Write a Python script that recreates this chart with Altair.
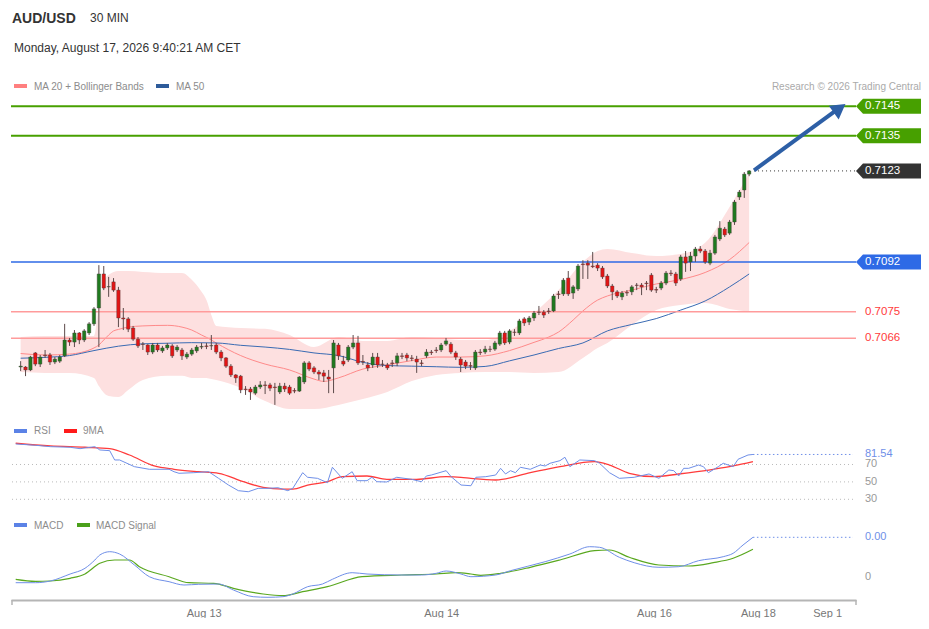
import altair as alt
import pandas as pd

FONT = "Liberation Sans"

# ---------------- price candles (30-min bars, index 0..149) ----------------
opens = [0.70562,0.70562,0.70552,0.70610,0.70572,0.70603,0.70603,0.70579,0.70582,0.70600,
         0.70654,0.70647,0.70678,0.70654,0.70678,0.70709,0.70763,0.70879,0.70835,0.70852,
         0.70824,0.70729,0.70726,0.70695,0.70657,0.70640,0.70637,0.70613,0.70637,0.70617,
         0.70627,0.70634,0.70620,0.70620,0.70596,0.70606,0.70617,0.70630,0.70634,0.70634,
         0.70637,0.70613,0.70593,0.70565,0.70535,0.70531,0.70487,0.70487,0.70473,0.70494,
         0.70501,0.70501,0.70494,0.70477,0.70497,0.70494,0.70482,0.70480,0.70511,0.70576,
         0.70559,0.70545,0.70542,0.70528,0.70559,0.70637,0.70582,0.70586,0.70630,0.70644,
         0.70581,0.70569,0.70569,0.70596,0.70572,0.70569,0.70576,0.70576,0.70600,0.70603,
         0.70593,0.70589,0.70576,0.70600,0.70613,0.70620,0.70620,0.70640,0.70640,0.70610,
         0.70589,0.70579,0.70567,0.70559,0.70613,0.70613,0.70623,0.70623,0.70640,0.70678,
         0.70647,0.70681,0.70678,0.70726,0.70715,0.70729,0.70749,0.70749,0.70753,0.70753,
         0.70811,0.70811,0.70865,0.70814,0.70828,0.70913,0.70916,0.70906,0.70909,0.70899,
         0.70872,0.70838,0.70818,0.70801,0.70816,0.70818,0.70841,0.70841,0.70848,0.70875,
         0.70826,0.70831,0.70848,0.70882,0.70879,0.70862,0.70937,0.70920,0.70940,0.70964,
         0.70957,0.70916,0.70950,0.70998,0.71032,0.71018,0.71056,0.71141,0.71165,0.71219]
highs = [0.70582,0.70565,0.70600,0.70613,0.70603,0.70620,0.70610,0.70596,0.70603,0.70709,
         0.70661,0.70688,0.70681,0.70691,0.70715,0.70766,0.70909,0.70906,0.70869,0.70865,
         0.70835,0.70763,0.70732,0.70702,0.70664,0.70647,0.70640,0.70644,0.70644,0.70634,
         0.70644,0.70640,0.70637,0.70627,0.70613,0.70627,0.70637,0.70644,0.70644,0.70671,
         0.70644,0.70620,0.70596,0.70572,0.70538,0.70535,0.70497,0.70494,0.70501,0.70514,
         0.70514,0.70508,0.70508,0.70508,0.70508,0.70501,0.70490,0.70531,0.70582,0.70582,
         0.70565,0.70552,0.70552,0.70552,0.70654,0.70644,0.70600,0.70637,0.70671,0.70668,
         0.70603,0.70579,0.70610,0.70610,0.70586,0.70576,0.70586,0.70610,0.70610,0.70610,
         0.70603,0.70600,0.70586,0.70623,0.70620,0.70630,0.70644,0.70661,0.70647,0.70617,
         0.70596,0.70586,0.70579,0.70620,0.70623,0.70634,0.70634,0.70651,0.70685,0.70685,
         0.70691,0.70691,0.70726,0.70732,0.70736,0.70753,0.70770,0.70756,0.70763,0.70811,
         0.70821,0.70865,0.70889,0.70841,0.70913,0.70926,0.70926,0.70954,0.70916,0.70906,
         0.70879,0.70845,0.70824,0.70821,0.70824,0.70841,0.70848,0.70848,0.70855,0.70882,
         0.70835,0.70855,0.70889,0.70892,0.70886,0.70944,0.70957,0.70954,0.70971,0.70974,
         0.70964,0.70961,0.71012,0.71059,0.71039,0.71063,0.71131,0.71165,0.71226,0.71233]
lows = [0.70548,0.70531,0.70548,0.70565,0.70562,0.70593,0.70569,0.70572,0.70576,0.70596,
        0.70634,0.70630,0.70640,0.70647,0.70671,0.70702,0.70630,0.70824,0.70801,0.70818,
        0.70698,0.70688,0.70681,0.70651,0.70627,0.70620,0.70603,0.70606,0.70613,0.70610,
        0.70620,0.70593,0.70613,0.70586,0.70589,0.70600,0.70610,0.70623,0.70623,0.70620,
        0.70606,0.70582,0.70559,0.70528,0.70508,0.70473,0.70467,0.70450,0.70467,0.70487,
        0.70470,0.70480,0.70433,0.70470,0.70477,0.70467,0.70473,0.70477,0.70504,0.70548,
        0.70538,0.70518,0.70511,0.70473,0.70473,0.70586,0.70565,0.70579,0.70623,0.70569,
        0.70569,0.70548,0.70559,0.70559,0.70562,0.70552,0.70562,0.70565,0.70589,0.70582,
        0.70582,0.70542,0.70565,0.70593,0.70603,0.70610,0.70613,0.70634,0.70606,0.70586,
        0.70545,0.70555,0.70552,0.70552,0.70603,0.70606,0.70613,0.70617,0.70634,0.70637,
        0.70640,0.70668,0.70671,0.70702,0.70705,0.70719,0.70739,0.70729,0.70743,0.70749,
        0.70794,0.70804,0.70804,0.70794,0.70821,0.70862,0.70862,0.70899,0.70889,0.70862,
        0.70831,0.70790,0.70797,0.70790,0.70804,0.70807,0.70824,0.70807,0.70824,0.70818,
        0.70814,0.70824,0.70841,0.70872,0.70838,0.70855,0.70886,0.70889,0.70920,0.70950,
        0.70913,0.70909,0.70944,0.70991,0.71005,0.71012,0.71046,0.71131,0.71138,0.71212]
closes = [0.70565,0.70552,0.70596,0.70572,0.70596,0.70601,0.70579,0.70589,0.70596,0.70654,
          0.70647,0.70678,0.70654,0.70685,0.70709,0.70760,0.70879,0.70831,0.70836,0.70824,
          0.70729,0.70726,0.70691,0.70657,0.70634,0.70639,0.70613,0.70637,0.70620,0.70627,
          0.70637,0.70600,0.70630,0.70600,0.70606,0.70620,0.70630,0.70632,0.70632,0.70635,
          0.70613,0.70593,0.70565,0.70535,0.70525,0.70484,0.70485,0.70477,0.70494,0.70501,
          0.70499,0.70490,0.70492,0.70497,0.70487,0.70473,0.70480,0.70528,0.70576,0.70555,
          0.70545,0.70538,0.70531,0.70521,0.70644,0.70600,0.70572,0.70630,0.70644,0.70576,
          0.70579,0.70559,0.70596,0.70569,0.70571,0.70559,0.70574,0.70600,0.70598,0.70593,
          0.70591,0.70579,0.70574,0.70613,0.70611,0.70618,0.70637,0.70651,0.70613,0.70596,
          0.70569,0.70565,0.70565,0.70613,0.70611,0.70623,0.70622,0.70644,0.70678,0.70644,
          0.70685,0.70680,0.70719,0.70712,0.70729,0.70746,0.70748,0.70739,0.70751,0.70804,
          0.70809,0.70858,0.70811,0.70835,0.70906,0.70911,0.70909,0.70904,0.70899,0.70869,
          0.70838,0.70818,0.70804,0.70814,0.70814,0.70835,0.70840,0.70835,0.70846,0.70824,
          0.70824,0.70848,0.70882,0.70880,0.70848,0.70937,0.70916,0.70940,0.70964,0.70957,
          0.70920,0.70950,0.71005,0.71035,0.71012,0.71056,0.71124,0.71158,0.71219,0.71230]

# ---------------- moving averages / Bollinger bands (read at sample bars) ----------------
band_idx = [0,5,10,15,16,17,18,20,22,25,30,33,35,37,38,39,40,45,50,55,60,65,70,75,80,85,90,95,
            100,105,110,115,118,120,125,130,135,140,145,149]
bb_upper = [0.70664,0.70668,0.70668,0.70668,0.70773,0.70852,0.70876,0.70889,0.70889,0.70886,
            0.70882,0.70882,0.70859,0.70818,0.70790,0.70739,0.70702,0.70695,0.70692,0.70671,
            0.70630,0.70664,0.70651,0.70651,0.70664,0.70661,0.70654,0.70654,0.70685,0.70746,
            0.70824,0.70920,0.70957,0.70964,0.70950,0.70940,0.70947,0.70985,0.71107,0.71223]
bb_lower = [0.70545,0.70542,0.70542,0.70525,0.70497,0.70474,0.70463,0.70460,0.70484,0.70518,
            0.70532,0.70532,0.70525,0.70525,0.70525,0.70521,0.70518,0.70491,0.70446,0.70419,
            0.70419,0.70433,0.70453,0.70477,0.70514,0.70535,0.70542,0.70545,0.70545,0.70542,
            0.70545,0.70593,0.70627,0.70644,0.70705,0.70756,0.70773,0.70780,0.70760,0.70750]
ma20_idx = [0,5,10,15,16,17,18,19,20,22,25,30,33,35,37,38,39,40,45,50,55,60,62,65,70,75,80,85,
            90,95,100,105,108,110,113,115,118,120,125,130,135,140,145,149]
ma20 = [0.70608,0.70603,0.70606,0.70627,0.70637,0.70654,0.70671,0.70685,0.70690,0.70698,
        0.70702,0.70704,0.70698,0.70688,0.70671,0.70663,0.70654,0.70644,0.70601,0.70572,
        0.70552,0.70521,0.70513,0.70525,0.70555,0.70569,0.70584,0.70596,0.70596,0.70600,
        0.70618,0.70646,0.70664,0.70681,0.70722,0.70753,0.70790,0.70804,0.70824,0.70845,
        0.70860,0.70884,0.70928,0.70986]
ma50_idx = [0,5,10,15,20,25,30,35,40,45,50,55,60,65,70,75,80,85,90,95,100,105,110,115,120,
            125,130,135,140,145,149]
ma50 = [0.70592,0.70595,0.70601,0.70618,0.70633,0.70641,0.70643,0.70645,0.70644,0.70636,
        0.70630,0.70622,0.70610,0.70601,0.70578,0.70567,0.70565,0.70563,0.70561,0.70564,
        0.70583,0.70603,0.70625,0.70644,0.70685,0.70707,0.70727,0.70756,0.70787,0.70835,
        0.70879]

# ---------------- key levels ----------------
resistance_levels = [0.7145, 0.7135]
pivot_level = [0.7092]
support_levels = [0.7075, 0.7066]
target_arrow_idx = [150, 166.5]
target_arrow_px = [0.71232, 0.71433]
arrow_head_idx = [167.5]
arrow_head_px = [0.71443]

# ---------------- RSI (14) and its 9-period MA ----------------
rsi_idx = [0,4,7,11,13,16,17,19,20,21,24,27,31,32,33,36,39,41,43,45,47,49,51,53,55,56,58,59,61,
           63,64,66,68,69,71,72,73,75,77,80,82,83,84,87,88,90,92,93,95,97,98,99,100,101,102,
           104,106,107,108,110,111,112,114,117,118,120,122,125,128,130,132,133,134,135,136,
           138,139,140,142,143,145,146,148,149]
rsi_vals = [93.6,92.1,90.5,89.8,88.2,90.5,86.7,85.9,75.2,75.2,67.5,64.5,64.5,61.7,59.9,60.6,
            61.7,54.1,46.4,39.9,38.7,42.6,42.6,43.3,39.9,42.6,60.6,55.3,54.1,49.1,66.8,54.1,
            61.7,51.4,51.4,55.3,50.2,49.9,55.3,53.0,50.2,56.8,57.9,62.9,56.0,46.4,45.6,55.3,
            56.0,57.9,65.6,59.1,62.9,60.6,66.8,64.5,69.4,68.3,71.4,74.4,78.3,67.5,75.2,74.4,
            71.4,60.6,54.1,55.3,59.1,54.1,63.7,62.9,56.8,65.6,65.6,69.4,67.5,60.6,67.5,71.4,
            67.5,76.0,80.9,81.54]
rsi_ma_idx = [0,7,14,19,23,28,32,37,41,46,50,54,56,59,63,66,71,75,81,87,90,92,97,104,110,
              117,120,124,129,134,141,145,149]
rsi_ma_vals = [94.4,91.3,89.8,88.2,80.9,68.3,64.5,61.7,59.9,50.2,43.8,41.8,41.8,46.4,50.2,
               56.0,56.8,53.0,53.0,56.0,55.3,54.1,52.2,60.6,67.5,73.2,69.4,59.9,56.0,59.1,
               64.5,68.3,73.2]
rsi_levels = [70, 50, 30]

# ---------------- MACD ----------------
macd_idx = [0,4,7,11,14,16,17,19,21,24,27,31,34,37,41,44,48,51,54,56,59,62,64,68,71,78,82,85,
            87,90,92,97,100,107,112,116,118,122,125,130,134,138,143,145,147,149]
macd_vals = [-0.000057,-0.000057,-0.00004,0.00003,0.000087,0.00017,0.00022,0.000253,0.00023,
             0.00012,0.000003,-0.000047,-0.00008,-0.000073,-0.00007,-0.00013,-0.000197,
             -0.000203,-0.000197,-0.00017,-0.000097,-0.00007,-0.000023,0.000043,0.00003,
             0.00002,0.00002,0.000037,0.00006,0.00003,0.000003,0.00002,0.000063,0.000153,
             0.00023,0.000303,0.000297,0.000197,0.000143,0.000097,0.000103,0.000163,0.000203,
             0.000237,0.00032,0.000397]
signal_idx = [0,4,7,11,14,17,20,23,25,31,35,40,44,50,54,58,63,70,78,85,89,92,94,98,104,110,
              117,120,124,130,136,141,145,149]
signal_vals = [-0.000023,-0.000043,-0.00004,-0.000013,0.00003,0.000137,0.00017,0.00017,
               0.000103,0.000003,-0.000057,-0.000063,-0.000113,-0.00017,-0.000187,-0.000147,
               -0.000097,0.000003,0.00002,0.00003,0.000043,0.00003,0.000017,0.000037,0.000097,
               0.00017,0.000263,0.00027,0.000197,0.00012,0.00011,0.000143,0.000187,0.000277]
macd_zero = [0]

tick_pos = [38, 86, 129, 150, 164]
tick_txt = ["Aug 13", "Aug 14", "Aug 16", "Aug 18", "Sep 1"]

# ---------------- styling ----------------
W = 845
H1, H2, H3 = 404, 100, 88
GREEN_C = "#1f7a1f"
RED_C = "#e31414"
WICK = "#5c4a4a"
LEVEL_GREEN = "#47a000"
LEVEL_BLUE = "#2e6ae6"
LEVEL_RED = "#ff9b9b"
ARROW = "#2d5fa6"
RSI_BLUE = "#6f8fe8"
MA_RED = "#ff3b3b"
SIG_GREEN = "#5aa820"
GREY_TXT = "#8c8c8c"

xs = alt.Scale(domain=[-0.95, 169.83], nice=False, zero=False)
ys_price = alt.Scale(domain=[0.704088, 0.717849], nice=False, zero=False)
ys_rsi = alt.Scale(domain=[15.4, 130.34], nice=False, zero=False)
ys_macd = alt.Scale(domain=[-0.00023, 0.00065], nice=False, zero=False)

expr = " : ".join(f"datum.value == {p} ? '{t}'" for p, t in zip(tick_pos, tick_txt)) + " : ''"
x_axis_bottom = alt.Axis(values=tick_pos, labelExpr=expr, ticks=False, grid=False,
                         domainColor="#b5b5b5", domainWidth=2, labelColor="#777777",
                         labelFontSize=11, labelFont=FONT, labelPadding=7,
                         labelOverlap=False, labelFlush=False, title=None)


def X(field="i", axis=None):
    return alt.X(f"{field}:Q", scale=xs, axis=axis)


one = pd.DataFrame({"k": [0]})


def txt(s, x, y, size, color, weight="normal", align="left"):
    return alt.Chart(one).mark_text(text=s, align=align, baseline="alphabetic", fontSize=size,
                                    font=FONT, fontWeight=weight, color=color).encode(
        x=alt.value(x), y=alt.value(y))


def swatch(x1, x2, y, color):
    return alt.Chart(one).mark_rule(color=color, strokeWidth=4).encode(
        x=alt.value(x1), x2=alt.value(x2), y=alt.value(y))


# ================= price panel =================
n = len(closes)
candles = pd.DataFrame({"i": list(range(n)), "open": opens, "high": highs,
                        "low": lows, "close": closes})
candles["dir"] = ["up" if c >= o else "down" for o, c in zip(opens, closes)]

YP = lambda f: alt.Y(f"{f}:Q", scale=ys_price, axis=None)

bands = pd.DataFrame({"i": band_idx, "upper": bb_upper, "lower": bb_lower})
area = alt.Chart(bands).mark_area(color="#fde0e0", interpolate="monotone").encode(
    x=X(), y=YP("upper"), y2=alt.Y2("lower:Q"))
ma20_line = alt.Chart(pd.DataFrame({"i": ma20_idx, "v": ma20})).mark_line(
    color="#ff8a8a", strokeWidth=1, interpolate="monotone").encode(x=X(), y=YP("v"))
ma50_line = alt.Chart(pd.DataFrame({"i": ma50_idx, "v": ma50})).mark_line(
    color="#3a6bb3", strokeWidth=1, interpolate="monotone").encode(x=X(), y=YP("v"))

res_df = pd.DataFrame({"v": resistance_levels})
piv_df = pd.DataFrame({"v": pivot_level})
sup_df = pd.DataFrame({"v": support_levels})
last_df = pd.DataFrame({"i": [target_arrow_idx[0]], "v": [closes[-1]]})

res_lines = alt.Chart(res_df).mark_rule(color=LEVEL_GREEN, strokeWidth=2).encode(
    x=alt.value(0), x2=alt.value(W), y=YP("v"))
piv_lines = alt.Chart(piv_df).mark_rule(color=LEVEL_BLUE, strokeWidth=1.5).encode(
    x=alt.value(0), x2=alt.value(W), y=YP("v"))
sup_lines = alt.Chart(sup_df).mark_rule(color=LEVEL_RED, strokeWidth=1.5).encode(
    x=alt.value(0), x2=alt.value(W), y=YP("v"))

wicks = alt.Chart(candles).mark_rule(color=WICK, strokeWidth=1).encode(
    x=X(), y=YP("low"), y2=alt.Y2("high:Q"))
bodies = alt.Chart(candles).mark_bar(size=3.4, stroke="#4a3a3a", strokeWidth=0.4).encode(
    x=X(), y=YP("open"), y2=alt.Y2("close:Q"),
    color=alt.Color("dir:N", scale=alt.Scale(domain=["up", "down"], range=[GREEN_C, RED_C]),
                    legend=None))

last_dots = alt.Chart(last_df).mark_rule(color="#333333", strokeDash=[1, 3], strokeWidth=1).encode(
    x=X(), x2=alt.value(W), y=YP("v"))

arrow_df = pd.DataFrame({"i": target_arrow_idx, "v": target_arrow_px})
arrow_line = alt.Chart(arrow_df).mark_line(color=ARROW, strokeWidth=4).encode(x=X(), y=YP("v"))
arrow_head = alt.Chart(pd.DataFrame({"i": arrow_head_idx, "v": arrow_head_px})).mark_point(
    shape="triangle-up", size=280, filled=True, opacity=1, color=ARROW, angle=54).encode(
    x=X(), y=YP("v"))

BOX = "M -1 0 L -0.785 -0.23 L 1 -0.23 L 1 0.23 L -0.785 0.23 Z"
BOX_X = 877.5
BOX_SIZE = 65 * 65


def box_layer(df, color):
    b = alt.Chart(df).mark_point(shape=BOX, size=BOX_SIZE, filled=True, opacity=1,
                                 strokeWidth=0, color=color).encode(
        x=alt.value(BOX_X), y=YP("v"))
    t = alt.Chart(df).mark_text(align="left", baseline="middle", color="white",
                                fontSize=11.5, font=FONT).encode(
        x=alt.value(854), y=YP("v"), text=alt.Text("v:Q", format=".4f"))
    return b + t


sup_txt = alt.Chart(sup_df).mark_text(align="left", baseline="middle", color="#ff3b3b",
                                      fontSize=11.5, font=FONT).encode(
    x=alt.value(854), y=YP("v"), text=alt.Text("v:Q", format=".4f"))

price_panel = alt.layer(
    area, ma20_line, ma50_line, res_lines, piv_lines, sup_lines, wicks, bodies,
    last_dots, arrow_line, arrow_head,
    box_layer(res_df, LEVEL_GREEN), box_layer(last_df, "#333333"), box_layer(piv_df, LEVEL_BLUE),
    sup_txt,
    txt("AUD/USD", 1, 15, 14, "#333333", weight="bold"),
    txt("30 MIN", 79, 14.3, 12, "#333333"),
    txt("Monday, August 17, 2026 9:40:21 AM CET", 3, 44, 12, "#333333"),
    swatch(3, 16, 78, "#ff7f7f"),
    txt("MA 20 + Bollinger Bands", 23, 81.5, 10, GREY_TXT),
    swatch(145, 158, 78, "#2e5b9a"),
    txt("MA 50", 165, 81.5, 10, GREY_TXT),
    txt("Research \u00a9 2026 Trading Central", 910, 81.5, 10, "#aaaaaa", align="right"),
).properties(width=W, height=H1)

# ================= RSI panel =================
YR = lambda f: alt.Y(f"{f}:Q", scale=ys_rsi, axis=None)
rsi_df = pd.DataFrame({"i": rsi_idx, "v": rsi_vals})
rsi_ma_df = pd.DataFrame({"i": rsi_ma_idx, "v": rsi_ma_vals})
rl_df = pd.DataFrame({"v": rsi_levels})
rsi_grid = alt.Chart(rl_df).mark_rule(color="#bbbbbb", strokeDash=[1, 3], strokeWidth=1).encode(
    x=alt.value(1), x2=alt.value(843), y=YR("v"))
rsi_lvl_txt = alt.Chart(rl_df).mark_text(align="left", baseline="middle", color="#999999",
                                         fontSize=11, font=FONT).encode(
    x=alt.value(854), y=YR("v"), text="v:Q")
rsi_ma_line = alt.Chart(rsi_ma_df).mark_line(color=MA_RED, strokeWidth=1.3,
                                             interpolate="monotone").encode(x=X(), y=YR("v"))
rsi_line = alt.Chart(rsi_df).mark_line(color=RSI_BLUE, strokeWidth=1).encode(x=X(), y=YR("v"))
rsi_last = rsi_df.tail(1)
rsi_dots = alt.Chart(rsi_last).mark_rule(color=RSI_BLUE, strokeDash=[1.5, 2.5], strokeWidth=1).encode(
    x=X(), x2=alt.value(842), y=YR("v"))
rsi_last_txt = alt.Chart(rsi_last).mark_text(align="left", baseline="middle", color=RSI_BLUE,
                                             fontSize=11, font=FONT).encode(
    x=alt.value(854), y=YR("v"), text=alt.Text("v:Q", format=".2f"))

rsi_panel = alt.layer(
    rsi_grid, rsi_lvl_txt, rsi_ma_line, rsi_line, rsi_dots, rsi_last_txt,
    swatch(3, 16, 19, "#5b82e6"),
    txt("RSI", 23, 22, 10, GREY_TXT),
    swatch(53, 66, 19, "#ff1a1a"),
    txt("9MA", 72, 22, 10, GREY_TXT),
).properties(width=W, height=H2)

# ================= MACD panel =================
YM = lambda f: alt.Y(f"{f}:Q", scale=ys_macd, axis=None)
macd_df = pd.DataFrame({"i": macd_idx, "v": macd_vals})
sig_df = pd.DataFrame({"i": signal_idx, "v": signal_vals})
XB = lambda: X(axis=x_axis_bottom)
sig_line = alt.Chart(sig_df).mark_line(color=SIG_GREEN, strokeWidth=1.2,
                                       interpolate="monotone").encode(x=XB(), y=YM("v"))
macd_line = alt.Chart(macd_df).mark_line(color=RSI_BLUE, strokeWidth=1,
                                         interpolate="monotone").encode(x=XB(), y=YM("v"))
macd_last = macd_df.tail(1)
macd_dots = alt.Chart(macd_last).mark_rule(color=RSI_BLUE, strokeDash=[1.5, 2.5], strokeWidth=1).encode(
    x=XB(), x2=alt.value(842), y=YM("v"))
macd_last_txt = alt.Chart(macd_last).mark_text(align="left", baseline="middle", color=RSI_BLUE,
                                               fontSize=11, font=FONT).encode(
    x=alt.value(854), y=YM("v"), text=alt.Text("v:Q", format=".2f"))
zero_txt = alt.Chart(pd.DataFrame({"v": macd_zero})).mark_text(
    align="left", baseline="middle", color="#999999", fontSize=11, font=FONT).encode(
    x=alt.value(854), y=YM("v"), text="v:Q")
end_ticks = alt.layer(
    alt.Chart(one).mark_rule(color="#b5b5b5", strokeWidth=1.5).encode(
        x=alt.value(1), y=alt.value(H3), y2=alt.value(H3 + 5)),
    alt.Chart(one).mark_rule(color="#b5b5b5", strokeWidth=1.5).encode(
        x=alt.value(W), y=alt.value(H3), y2=alt.value(H3 + 5)),
)

macd_panel = alt.layer(
    sig_line, macd_line, macd_dots, macd_last_txt, zero_txt, end_ticks,
    swatch(3, 16, 13, "#5b82e6"),
    txt("MACD", 23, 16.7, 10, GREY_TXT),
    swatch(66, 79, 13, "#4aa01a"),
    txt("MACD Signal", 85, 16.7, 10, GREY_TXT),
).properties(width=W, height=H3)

chart = alt.vconcat(price_panel, rsi_panel, macd_panel, spacing=0).properties(
    padding={"left": 2, "top": 0, "right": 0, "bottom": 0},
    background="white",
).configure_view(stroke=None).configure_concat(spacing=0)

chart.save("out.html", embed_options={"renderer": "svg", "actions": False})
